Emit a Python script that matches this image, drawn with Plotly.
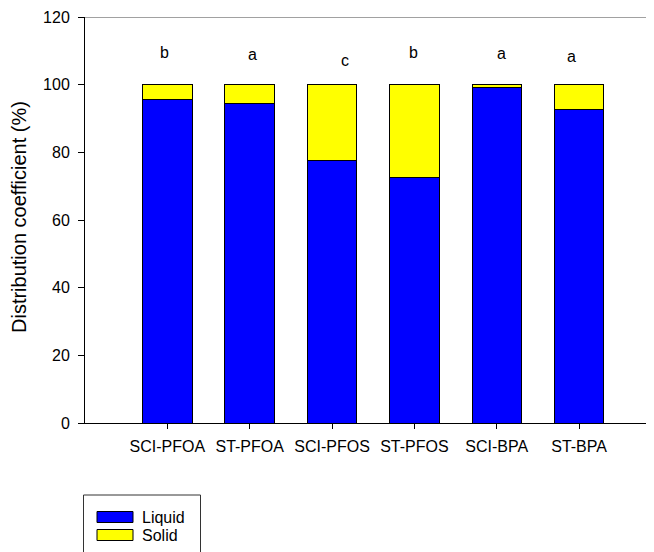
import plotly.graph_objects as go

categories = ["SCI-PFOA", "ST-PFOA", "SCI-PFOS", "ST-PFOS", "SCI-BPA", "ST-BPA"]
liquid = [95.6, 94.5, 77.7, 72.6, 99.2, 92.8]
solid = [round(100 - v, 1) for v in liquid]
letters = ["b", "a", "c", "b", "a", "a"]
letter_y = [109.4, 109.0, 107.2, 109.4, 109.3, 108.2]
letter_xshift = [-3, 3, 13, -1, 5, -8]
y_ticks = [0, 20, 40, 60, 80, 100, 120]

OFF = 8  # default page body margin
W, H = 654 - OFF, 552 - OFF
ML, MR, MT, MB = 77, 0, 9, 129
PW, PH = W - ML - MR, H - MT - MB
FONT = "Liberation Sans, Arial, sans-serif"

def px_x(sx):
    return (sx - OFF - ML) / PW

def px_y(sy):
    return (H - MB - (sy - OFF)) / PH

x_idx = list(range(len(categories)))

fig = go.Figure()
fig.add_trace(go.Bar(x=x_idx, y=liquid, name="Liquid", marker=dict(color="#0000FF", line=dict(color="black", width=1)), width=0.6))
fig.add_trace(go.Bar(x=x_idx, y=solid, name="Solid", marker=dict(color="#FFFF00", line=dict(color="black", width=1)), width=0.6))

for i, (t, yv, xs) in enumerate(zip(letters, letter_y, letter_xshift)):
    fig.add_annotation(x=i, y=yv, text=t, showarrow=False, xshift=xs, yanchor="middle",
                       font=dict(size=16, color="black", family=FONT))

# top frame line
fig.add_shape(type="line", xref="paper", yref="y", x0=0, x1=1, y0=120, y1=120,
              line=dict(color="#444444", width=1))

# manual legend
fig.add_shape(type="rect", xref="paper", yref="paper", x0=px_x(83.5), x1=px_x(200.5), y0=px_y(495), y1=px_y(570),
              line=dict(color="#333333", width=1), fillcolor="white")
legend_items = [("Liquid", "#0000FF", 517), ("Solid", "#FFFF00", 535)]
for name, col, cy in legend_items:
    fig.add_shape(type="rect", xref="paper", yref="paper", x0=px_x(97), x1=px_x(133), y0=px_y(cy - 5.5), y1=px_y(cy + 5.5),
                  line=dict(color="black", width=1), fillcolor=col)
    fig.add_annotation(xref="paper", yref="paper", x=px_x(140), y=px_y(cy), text=name, showarrow=False,
                       xanchor="left", yanchor="middle", font=dict(size=16, color="black", family=FONT))

# y-axis title as text
fig.add_annotation(xref="paper", yref="paper", x=px_x(19), y=px_y(217), text="Distribution coefficient (%)",
                   textangle=-90, showarrow=False, xanchor="center", yanchor="middle",
                   font=dict(size=20, color="black", family=FONT))

fig.update_layout(
    barmode="stack",
    width=W, height=H,
    margin=dict(l=ML, r=MR, t=MT, b=MB, autoexpand=False),
    plot_bgcolor="white", paper_bgcolor="white",
    showlegend=False,
    font=dict(family=FONT, size=16, color="black"),
    xaxis=dict(range=[-1, 5.91], tickmode="array", tickvals=x_idx, ticktext=categories,
               showline=True, linecolor="black", linewidth=1, ticks="outside", ticklen=5,
               tickcolor="black", showgrid=False, zeroline=False, tickfont=dict(size=16),
               automargin=False, ticklabelstandoff=4),
    yaxis=dict(range=[0, 120], tickmode="array", tickvals=y_ticks,
               showline=True, linecolor="black", linewidth=1, ticks="outside", ticklen=6,
               tickcolor="black", showgrid=False, zeroline=False, tickfont=dict(size=16),
               automargin=False, ticklabelstandoff=5),
)

fig.write_html("out.html")
